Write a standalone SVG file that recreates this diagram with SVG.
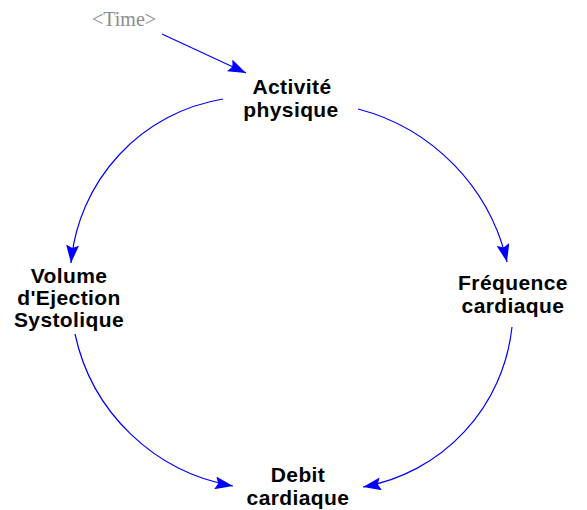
<svg xmlns="http://www.w3.org/2000/svg" width="587" height="510" viewBox="0 0 587 510">
<style>
.lbl{font-family:"Liberation Sans",Arial,sans-serif;font-size:21px;font-weight:bold;letter-spacing:0.4px;fill:#000;text-anchor:middle}
.shadow{font-family:"Liberation Serif","Times New Roman",serif;font-size:20px;fill:#8c8c8c}
.link{fill:none;stroke:#0000ff;stroke-width:1.2;marker-end:url(#ah)}
</style>
<defs>
<marker id="ah" markerUnits="userSpaceOnUse" viewBox="0 0 18 13" refX="18" refY="6.5" markerWidth="18" markerHeight="13" orient="auto">
<path d="M0,0 L18,6.5 L0,13 L3,6.5 z" fill="#0000ff"/>
</marker>
</defs>
<rect width="587" height="510" fill="#fff"/>
<g id="connectors">
<path class="link" d="M162,34 L246,73"/>
<path class="link" d="M223,99 A182.6,182.6 0 0 0 71,263"/>
<path class="link" d="M358,109 A206,206 0 0 1 507,262"/>
<path class="link" d="M75,334 A196,196 0 0 0 233,486"/>
<path class="link" d="M512,327 A182,182 0 0 1 363,487"/>
</g>
<g id="time"><text class="shadow" x="92" y="26">&lt;Time&gt;</text></g>
<g id="activite"><text class="lbl" x="292" y="94">Activité</text><text class="lbl" x="291" y="117">physique</text></g>
<g id="volume"><text class="lbl" x="69" y="283">Volume</text><text class="lbl" x="69" y="305">d'Ejection</text><text class="lbl" x="69" y="327">Systolique</text></g>
<g id="frequence"><text class="lbl" x="513" y="290">Fréquence</text><text class="lbl" x="513" y="313">cardiaque</text></g>
<g id="debit"><text class="lbl" x="298" y="482">Debit</text><text class="lbl" x="298" y="505">cardiaque</text></g>
</svg>
